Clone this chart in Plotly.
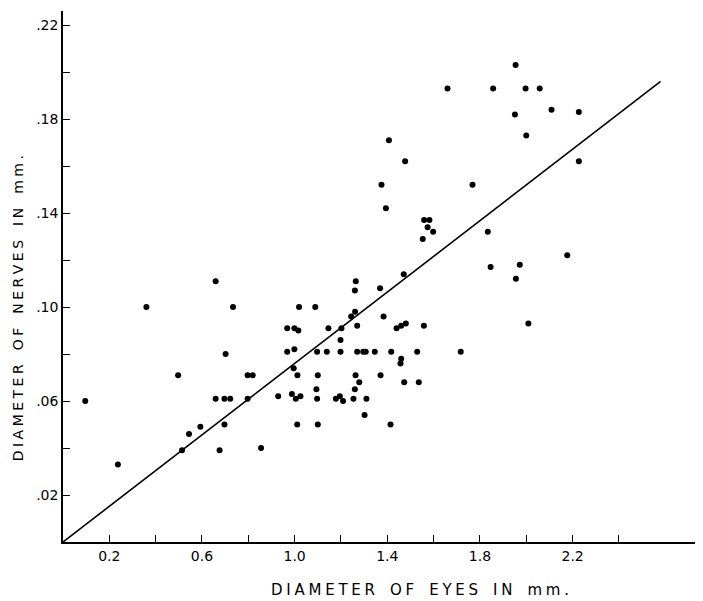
import plotly.graph_objects as go

# Diameter of eyes (mm) and diameter of nerves (mm)
eye_diam = [
    0.096, 0.237, 0.360, 0.497, 0.514, 0.544, 0.593, 0.659, 0.659, 0.676,
    0.697, 0.702, 0.697, 0.722, 0.734, 0.797, 0.819, 0.797, 0.855, 0.929,
    0.968, 0.999, 1.016, 1.019, 1.089, 0.968, 0.999, 0.996, 1.012, 0.988,
    1.005, 1.025, 1.011, 1.097, 1.100, 1.094, 1.097, 1.100, 1.139, 1.146,
    1.198, 1.198, 1.202, 1.178, 1.195, 1.209, 1.254, 1.260, 1.263, 1.279,
    1.310, 1.302, 1.270, 1.296, 1.307, 1.346, 1.371, 1.414, 1.417, 1.264,
    1.260, 1.261, 1.244, 1.270, 1.369, 1.384, 1.440, 1.460, 1.480, 1.471,
    1.558, 1.529, 1.717, 1.460, 1.457, 1.473, 1.536, 1.846, 1.972, 1.955,
    2.177, 2.009, 1.407, 1.477, 1.375, 1.768, 1.394, 1.559, 1.582, 1.574,
    1.598, 1.553, 1.954, 1.660, 1.857, 1.997, 2.058, 1.951, 2.109, 2.227,
    2.000, 2.227, 1.834,
]
nerve_diam = [
    0.060, 0.033, 0.100, 0.071, 0.039, 0.046, 0.049, 0.111, 0.061, 0.039,
    0.050, 0.080, 0.061, 0.061, 0.100, 0.071, 0.071, 0.061, 0.040, 0.062,
    0.091, 0.091, 0.090, 0.100, 0.100, 0.081, 0.082, 0.074, 0.071, 0.063,
    0.061, 0.062, 0.050, 0.081, 0.071, 0.065, 0.061, 0.050, 0.081, 0.091,
    0.086, 0.081, 0.091, 0.061, 0.062, 0.060, 0.061, 0.065, 0.071, 0.068,
    0.061, 0.054, 0.081, 0.081, 0.081, 0.081, 0.071, 0.050, 0.081, 0.111,
    0.107, 0.098, 0.096, 0.092, 0.108, 0.096, 0.091, 0.092, 0.093, 0.114,
    0.092, 0.081, 0.081, 0.078, 0.076, 0.068, 0.068, 0.117, 0.118, 0.112,
    0.122, 0.093, 0.171, 0.162, 0.152, 0.152, 0.142, 0.137, 0.137, 0.134,
    0.132, 0.129, 0.203, 0.193, 0.193, 0.193, 0.193, 0.182, 0.184, 0.183,
    0.173, 0.162, 0.132,
]

# Fitted line end points
line_x = [0.0, 2.58]
line_y = [0.0, 0.196]

x_tickvals = [0.2, 0.4, 0.6, 0.8, 1.0, 1.2, 1.4, 1.6, 1.8, 2.0, 2.2, 2.4]
x_ticktext = ["0.2", "", "0.6", "", "1.0", "", "1.4", "", "1.8", "", "2.2", ""]
y_tickvals = [0.02, 0.04, 0.06, 0.08, 0.10, 0.12, 0.14, 0.16, 0.18, 0.20, 0.22]
y_ticktext = [".02", "", ".06", "", ".10", "", ".14", "", ".18", "", ".22"]

x_title = "DIAMETER OF EYES IN mm."
y_title = "DIAMETER OF NERVES IN mm."

FONT = "DejaVu Sans"
SP = "\u2005"


def spaced(s):
    out = []
    for ch in s:
        out.append(SP + SP if ch == " " else ch)
    return SP.join(out)


fig = go.Figure()
fig.add_trace(go.Scatter(
    x=line_x, y=line_y, mode="lines",
    line=dict(color="black", width=1.6), hoverinfo="skip", showlegend=False,
))
fig.add_trace(go.Scatter(
    x=eye_diam, y=nerve_diam, mode="markers",
    marker=dict(color="black", size=6), showlegend=False,
))

fig.add_annotation(
    text=spaced(x_title), xref="paper", yref="paper", x=0.56, y=0,
    xanchor="center", yanchor="middle", yshift=-48, showarrow=False,
    font=dict(size=15, family=FONT, color="black"),
)
fig.add_annotation(
    text=spaced(y_title), xref="paper", yref="paper", x=0, y=0.44,
    xanchor="center", yanchor="middle", xshift=-45, textangle=-90, showarrow=False,
    font=dict(size=14, family=FONT, color="black"),
)

fig.update_layout(
    width=695, height=593,
    margin=dict(l=55, r=3, t=3, b=59),
    paper_bgcolor="white", plot_bgcolor="white",
    font=dict(family=FONT, size=14, color="black"),
    xaxis=dict(
        range=[0, 2.75], showgrid=False, zeroline=False, automargin=False,
        showline=True, linecolor="black", linewidth=1.5,
        ticks="inside", ticklen=7, tickwidth=1.2, tickcolor="black",
        tickvals=x_tickvals, ticktext=x_ticktext,
        tickfont=dict(size=14, family=FONT),
    ),
    yaxis=dict(
        range=[0, 0.226], showgrid=False, zeroline=False, automargin=False,
        showline=True, linecolor="black", linewidth=1.5,
        ticks="inside", ticklen=7, tickwidth=1.2, tickcolor="black",
        tickvals=y_tickvals, ticktext=y_ticktext,
        tickfont=dict(size=14, family=FONT),
    ),
)

fig.write_html("out.html")
